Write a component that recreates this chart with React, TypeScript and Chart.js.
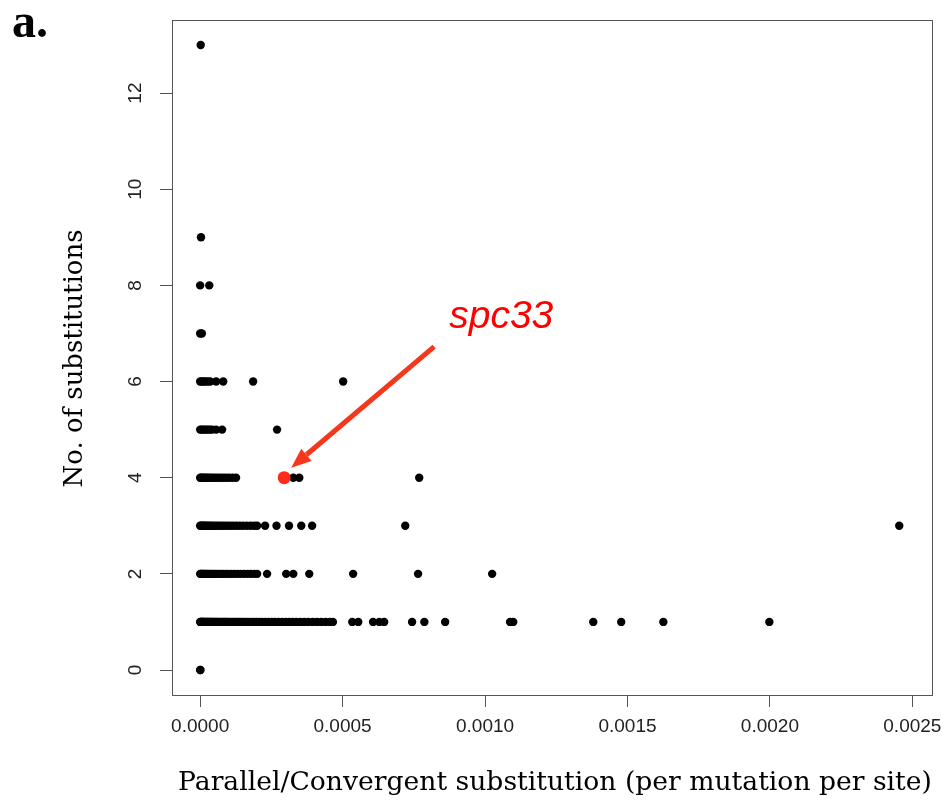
import React, { useEffect, useRef } from "react";
import { Chart, registerables } from "chart.js";
Chart.register(...registerables);

// ---- data (x in units of 1e-6 per mutation per site) ----
const xTickValues = [0, 0.0005, 0.001, 0.0015, 0.002, 0.0025];
const xTickLabels = ["0.0000", "0.0005", "0.0010", "0.0015", "0.0020", "0.0025"];
const yTickValues = [0, 2, 4, 6, 8, 10, 12];
const yTickLabels = ["0", "2", "4", "6", "8", "10", "12"];

const sub0 = [0, 1];
const sub1 = [0, 2, 4, 6, 8, 10, 13, 15, 18, 21, 24, 27, 30, 33, 36, 40, 43, 47, 51, 55, 59, 63, 67, 72, 77, 82, 86, 91, 96, 102, 108, 114, 120, 127, 133, 140, 147, 155, 163, 171, 180, 189, 198, 207, 217, 228, 240, 252, 262, 275, 288, 300, 312, 325, 338, 352, 366, 380, 395, 410, 425, 440, 455, 466, 534, 555, 607, 629, 646, 744, 787, 860, 1088, 1099, 1380, 1478, 1626, 1998];
const sub2 = [0, 3, 6, 9, 12, 16, 20, 24, 29, 34, 40, 46, 52, 59, 66, 74, 82, 91, 100, 110, 120, 131, 142, 154, 166, 178, 190, 200, 235, 302, 327, 383, 537, 765, 1025];
const sub3 = [0, 3, 7, 11, 15, 20, 25, 31, 37, 44, 51, 59, 67, 76, 85, 95, 105, 116, 127, 139, 151, 164, 177, 190, 200, 228, 268, 312, 355, 393, 720, 2454];
const sub4 = [0, 4, 8, 13, 18, 24, 30, 37, 45, 53, 62, 71, 81, 91, 102, 114, 126, 327, 348, 769];
const sub5 = [0, 5, 10, 16, 22, 28, 35, 42, 56, 77, 270];
const sub6 = [0, 6, 12, 18, 26, 35, 56, 81, 186, 502];
const sub7 = [0, 6];
const sub8 = [0, 32];
const sub9 = [3];
const sub13 = [2];

const highlightX = 295;
const highlightY = 4;
const highlightLabel = "spc33";

const xTitle = "Parallel/Convergent substitution (per mutation per site)";
const yTitle = "No. of substitutions";
const panelLabel = "a.";

const groups: [number, number[]][] = [
  [0, sub0], [1, sub1], [2, sub2], [3, sub3], [4, sub4], [5, sub5],
  [6, sub6], [7, sub7], [8, sub8], [9, sub9], [13, sub13],
];

function fitFont(ctx: CanvasRenderingContext2D, text: string, family: string, target: number) {
  ctx.font = `20px ${family}`;
  const w = ctx.measureText(text).width;
  const size = (20 * target) / w;
  ctx.font = `${size}px ${family}`;
}

export default function App() {
  const ref = useRef<HTMLCanvasElement | null>(null);

  useEffect(() => {
    if (!ref.current) return;
    const black: { x: number; y: number }[] = [];
    groups.forEach(([y, xs]) => xs.forEach((x) => black.push({ x: x * 1e-6, y })));
    const red = [{ x: highlightX * 1e-6, y: highlightY }];
    const serif = "'DejaVu Serif', 'Liberation Serif', serif";

    const decor = {
      id: "decor",
      afterDraw(chart: any) {
        const ctx = chart.ctx as CanvasRenderingContext2D;
        const ca = chart.chartArea;
        const xs = chart.scales.x;
        const ys = chart.scales.y;
        ctx.save();
        // box
        ctx.strokeStyle = "#555";
        ctx.lineWidth = 1;
        ctx.strokeRect(ca.left + 0.5, ca.top + 0.5, ca.right - ca.left, ca.bottom - ca.top);
        // y tick labels (rotated, R style)
        ctx.fillStyle = "#222";
        ctx.font = "19px 'Liberation Sans', Arial, sans-serif";
        ctx.textAlign = "center";
        ctx.textBaseline = "middle";
        yTickValues.forEach((v, i) => {
          const py = ys.getPixelForValue(v);
          ctx.save();
          ctx.translate(ca.left - 36, py);
          ctx.rotate(-Math.PI / 2);
          ctx.fillText(yTickLabels[i], 0, 0);
          ctx.restore();
        });
        // axis titles
        ctx.fillStyle = "#000";
        ctx.textBaseline = "alphabetic";
        ctx.save();
        fitFont(ctx, yTitle, serif, 258);
        ctx.translate(82, (ca.top + ca.bottom) / 2 + 1);
        ctx.rotate(-Math.PI / 2);
        ctx.textAlign = "center";
        ctx.fillText(yTitle, 0, 0);
        ctx.restore();
        fitFont(ctx, xTitle, serif, 754);
        ctx.textAlign = "center";
        ctx.fillText(xTitle, 555, 790);
        // panel label
        ctx.font = "bold 48px 'Liberation Serif', 'Times New Roman', serif";
        ctx.textAlign = "left";
        ctx.fillText(panelLabel, 12, 37);
        // annotation arrow + label
        const px = xs.getPixelForValue(highlightX * 1e-6);
        const py = ys.getPixelForValue(highlightY);
        const tipX = px + 7, tipY = py - 10;
        const tailX = px + 150, tailY = py - 131;
        const ang = Math.atan2(tipY - tailY, tipX - tailX);
        const headLen = 20, headW = 8;
        const baseX = tipX - headLen * Math.cos(ang);
        const baseY = tipY - headLen * Math.sin(ang);
        ctx.strokeStyle = "#f5381c";
        ctx.fillStyle = "#f5381c";
        ctx.lineWidth = 5;
        ctx.beginPath();
        ctx.moveTo(tailX, tailY);
        ctx.lineTo(baseX, baseY);
        ctx.stroke();
        ctx.beginPath();
        ctx.moveTo(tipX, tipY);
        ctx.lineTo(baseX + headW * Math.sin(ang), baseY - headW * Math.cos(ang));
        ctx.lineTo(baseX - headW * Math.sin(ang), baseY + headW * Math.cos(ang));
        ctx.closePath();
        ctx.fill();
        ctx.fillStyle = "#ff0000";
        ctx.font = "italic 39px 'Liberation Sans', Arial, sans-serif";
        ctx.textAlign = "left";
        ctx.fillText(highlightLabel, px + 165, py - 150);
        ctx.restore();
      },
    };

    const chart = new Chart(ref.current, {
      type: "scatter",
      data: {
        datasets: [
          {
            data: red,
            backgroundColor: "#ff2a1a",
            borderWidth: 0,
            pointRadius: 6.5,
            pointHoverRadius: 6.5,
          },
          {
            data: black,
            backgroundColor: "#000",
            borderWidth: 0,
            pointRadius: 4.2,
            pointHoverRadius: 4.2,
          },
        ],
      },
      options: {
        animation: false,
        responsive: true,
        maintainAspectRatio: false,
        devicePixelRatio: 1,
        layout: { padding: { left: 0, right: 10, top: 20, bottom: 0 } },
        plugins: { legend: { display: false }, tooltip: { enabled: false } },
        scales: {
          x: {
            type: "linear",
            min: -0.0000988,
            max: 0.002569,
            afterBuildTicks: (s: any) => {
              s.ticks = xTickValues.map((v) => ({ value: v }));
            },
            afterFit: (s: any) => {
              s.height = 106;
              s.paddingLeft = 0;
              s.paddingRight = 0;
            },
            grid: { drawOnChartArea: false, drawTicks: true, tickLength: 12, color: "#555" },
            border: { display: true, color: "#555" },
            ticks: {
              autoSkip: false,
              maxRotation: 0,
              minRotation: 0,
              padding: 8,
              color: "#222",
              font: { family: "'Liberation Sans', Arial, sans-serif", size: 19 },
              callback: (v: any) => {
                const i = xTickValues.findIndex((t) => Math.abs(t - v) < 1e-9);
                return i >= 0 ? xTickLabels[i] : "";
              },
            },
          },
          y: {
            type: "linear",
            min: -0.52,
            max: 13.52,
            afterBuildTicks: (s: any) => {
              s.ticks = yTickValues.map((v) => ({ value: v }));
            },
            afterFit: (s: any) => {
              s.width = 172;
              s.paddingTop = 0;
              s.paddingBottom = 0;
            },
            grid: { drawOnChartArea: false, drawTicks: true, tickLength: 12, color: "#555" },
            border: { display: true, color: "#555" },
            ticks: { display: false },
          },
        },
      },
      plugins: [decor],
    });
    return () => chart.destroy();
  }, []);

  return (
    <div style={{ position: "absolute", left: 0, top: 0, width: 942, height: 801, background: "#fff" }}>
      <canvas ref={ref} />
    </div>
  );
}
